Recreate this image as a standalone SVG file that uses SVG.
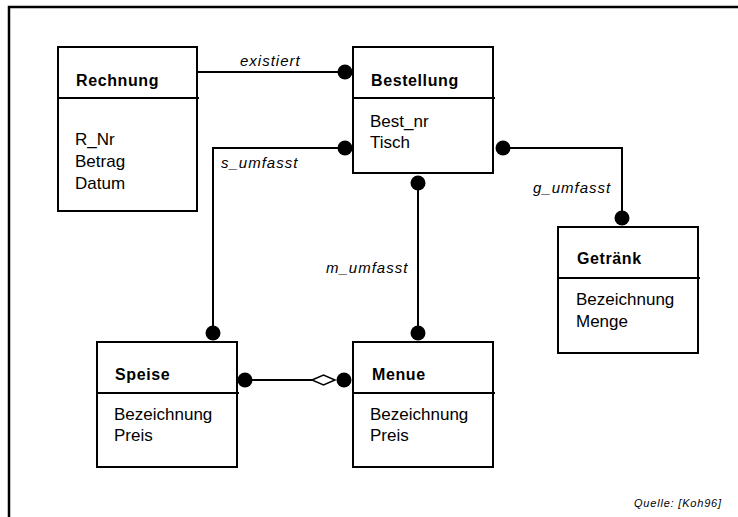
<svg xmlns="http://www.w3.org/2000/svg" width="738" height="517" viewBox="0 0 738 517">
  <style>
    .box { fill: #fff; stroke: #000; stroke-width: 2; }
    .div { stroke: #000; stroke-width: 2; }
    .line { fill: none; stroke: #000; stroke-width: 2; }
    .dot { fill: #000; }
    .title { font-family: "Liberation Sans", Arial, sans-serif; font-weight: bold; font-size: 16px; letter-spacing: 0.6px; fill: #000; }
    .attr { font-family: "Liberation Sans", Arial, sans-serif; font-size: 17px; fill: #000; }
    .rel { font-family: "Liberation Sans", Arial, sans-serif; font-style: italic; font-size: 15px; letter-spacing: 1px; fill: #000; }
    .src { font-family: "Liberation Sans", Arial, sans-serif; font-style: italic; font-size: 11px; letter-spacing: 0.8px; fill: #000; }
  </style>

  <rect width="738" height="517" fill="#fff"/>
  <!-- frame (left and top edges) -->
  <path d="M9,517 V7 H738" fill="none" stroke="#000" stroke-width="2.5"/>

  <!-- connectors -->
  <g id="connectors">
    <g id="existiert">
      <path class="line" d="M197,72 H345"/>
      <circle class="dot" cx="345" cy="72" r="7.5"/>
      <text class="rel" x="240" y="66">existiert</text>
    </g>
    <g id="s_umfasst">
      <path class="line" d="M345,148 H213 V333"/>
      <circle class="dot" cx="345" cy="148" r="7.5"/>
      <circle class="dot" cx="213" cy="333" r="7.5"/>
      <text class="rel" x="221" y="168">s_umfasst</text>
    </g>
    <g id="g_umfasst">
      <path class="line" d="M503,148 H622 V218"/>
      <circle class="dot" cx="503" cy="148" r="7.5"/>
      <circle class="dot" cx="622" cy="218" r="7.5"/>
      <text class="rel" x="533" y="193">g_umfasst</text>
    </g>
    <g id="m_umfasst">
      <path class="line" d="M418,183 V333"/>
      <circle class="dot" cx="418" cy="183" r="7.5"/>
      <circle class="dot" cx="418" cy="333" r="7.5"/>
      <text class="rel" x="326" y="273">m_umfasst</text>
    </g>
    <g id="aggregation">
      <path class="line" d="M245,380 H312"/>
      <circle class="dot" cx="245" cy="380" r="7.5"/>
      <polygon points="312,380 323.5,375 335,380 323.5,385" fill="#fff" stroke="#000" stroke-width="1.5"/>
      <circle class="dot" cx="344" cy="380" r="7.5"/>
    </g>
  </g>

  <!-- entities -->
  <g id="Rechnung">
    <rect class="box" x="58" y="47" width="139" height="164"/>
    <line class="div" x1="58" y1="98" x2="199" y2="98"/>
    <text class="title" x="76" y="86">Rechnung</text>
    <text class="attr" x="75" y="145">R_Nr</text>
    <text class="attr" x="75" y="167">Betrag</text>
    <text class="attr" x="75" y="189">Datum</text>
  </g>

  <g id="Bestellung">
    <rect class="box" x="353" y="47" width="140" height="126"/>
    <line class="div" x1="353" y1="98" x2="495" y2="98"/>
    <text class="title" x="371" y="86">Bestellung</text>
    <text class="attr" x="370" y="127">Best_nr</text>
    <text class="attr" x="370" y="148">Tisch</text>
  </g>

  <g id="Getraenk">
    <rect class="box" x="558" y="227" width="140" height="126"/>
    <line class="div" x1="558" y1="278" x2="700" y2="278"/>
    <text class="title" x="577" y="264">Getränk</text>
    <text class="attr" x="576" y="305">Bezeichnung</text>
    <text class="attr" x="576" y="327">Menge</text>
  </g>

  <g id="Speise">
    <rect class="box" x="97" y="342" width="140" height="125"/>
    <line class="div" x1="97" y1="393" x2="239" y2="393"/>
    <text class="title" x="115" y="380">Speise</text>
    <text class="attr" x="114" y="420">Bezeichnung</text>
    <text class="attr" x="114" y="441">Preis</text>
  </g>

  <g id="Menue">
    <rect class="box" x="353" y="342" width="140" height="125"/>
    <line class="div" x1="353" y1="393" x2="495" y2="393"/>
    <text class="title" x="372" y="380">Menue</text>
    <text class="attr" x="370" y="420">Bezeichnung</text>
    <text class="attr" x="370" y="441">Preis</text>
  </g>

  <text class="src" x="634" y="507">Quelle: [Koh96]</text>
</svg>
